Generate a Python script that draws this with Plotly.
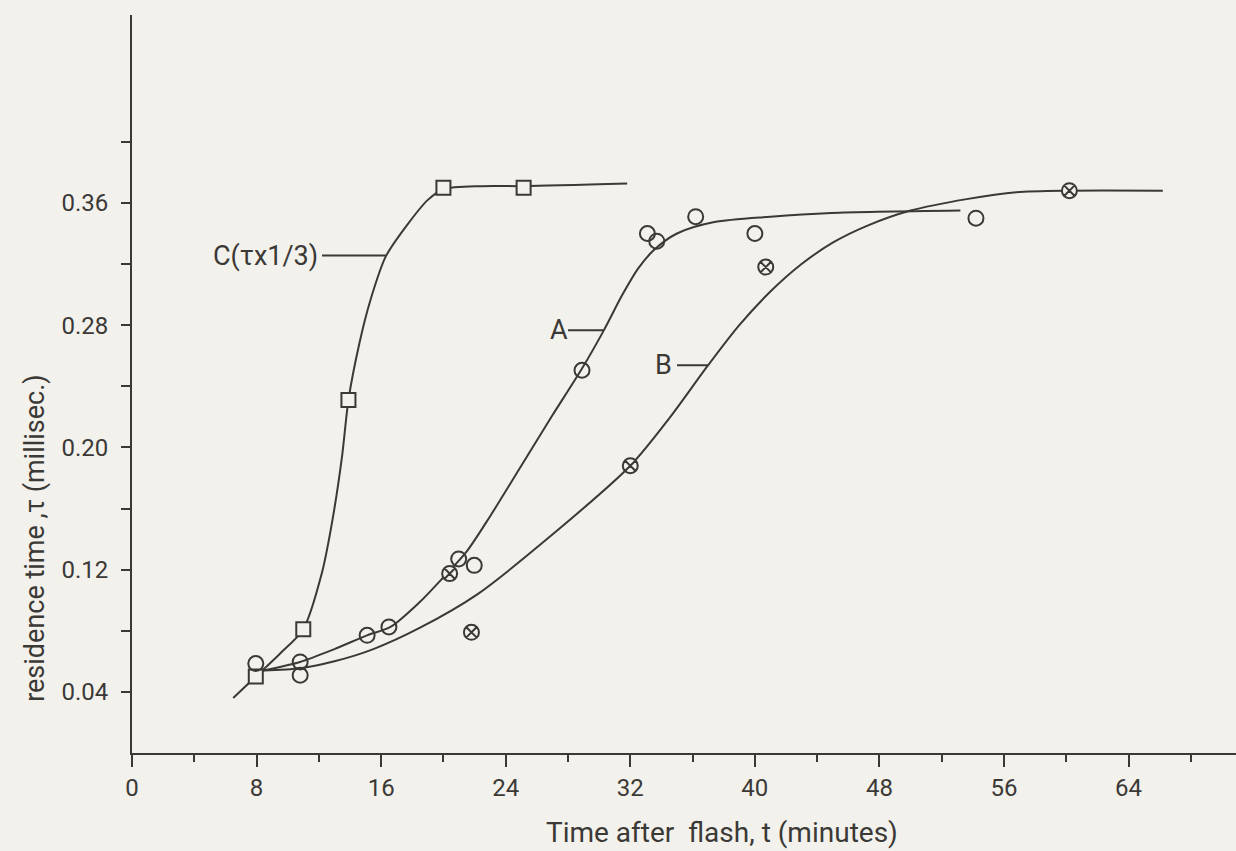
import plotly.graph_objects as go

# ---- data ----
# fitted curves (hand-drawn lines)
c_curve_t = [6.5, 7.95, 9.5, 11.0, 12.2, 12.9, 13.5, 13.9, 14.6, 15.3, 16.3, 17.7, 19.0, 20.0, 22.5, 25.15, 31.8]
c_curve_y = [0.036, 0.050, 0.065, 0.081, 0.118, 0.154, 0.195, 0.231, 0.268, 0.296, 0.325, 0.346, 0.362, 0.369, 0.371, 0.371, 0.3727]

a_curve_t = [8.4, 10.8, 13.0, 15.1, 16.6, 18.5, 20.0, 21.5, 23.0, 25.0, 27.0, 28.9, 30.3, 31.5, 32.5, 33.5, 35.0, 37.4, 41.0, 44.9, 53.2]
a_curve_y = [0.054, 0.0596, 0.068, 0.077, 0.0825, 0.099, 0.115, 0.132, 0.155, 0.188, 0.221, 0.2516, 0.2766, 0.300, 0.317, 0.329, 0.340, 0.3475, 0.351, 0.3534, 0.355]

b_curve_t = [8.4, 10.8, 13.0, 15.5, 18.5, 22.2, 26.65, 32.0, 34.5, 37.0, 39.0, 41.0, 43.0, 45.0, 47.2, 50.0, 53.6, 56.8, 60.2, 66.2]
b_curve_y = [0.054, 0.0555, 0.060, 0.068, 0.082, 0.104, 0.140, 0.188, 0.219, 0.2538, 0.280, 0.302, 0.320, 0.334, 0.345, 0.355, 0.3625, 0.367, 0.368, 0.368]

# measured points
squares_t = [7.95, 11.0, 13.9, 20.0, 25.15]
squares_y = [0.050, 0.081, 0.231, 0.370, 0.370]

circles_t = [7.95, 10.8, 10.8, 15.1, 16.5, 20.98, 21.98, 28.9, 33.1, 33.7, 36.2, 40.0, 54.2]
circles_y = [0.0585, 0.0596, 0.0509, 0.077, 0.0825, 0.127, 0.1228, 0.2505, 0.340, 0.335, 0.351, 0.340, 0.350]

crossed_t = [20.4, 21.8, 32.0, 40.7, 60.2]
crossed_y = [0.1174, 0.079, 0.188, 0.318, 0.368]

# curve labels and leader lines
label_text = ["C(τx1/3)", "A", "B"]
label_t = [12.1, 27.4, 34.15]
label_y = [0.3256, 0.2766, 0.2538]
leader_t0 = [12.2, 28.0, 35.0]
leader_t1 = [16.3, 30.3, 37.0]

x_major = [0, 8, 16, 24, 32, 40, 48, 56, 64]
x_minor = [4, 12, 20, 28, 36, 44, 52, 60, 68]
y_ticks = [0.04, 0.08, 0.12, 0.16, 0.20, 0.24, 0.28, 0.32, 0.36, 0.40]
y_tick_text = ["0.04", "", "0.12", "", "0.20", "", "0.28", "", "0.36", ""]

INK = "#3b3936"
BG = "#f3f1ec"
FONT = "Roboto"

fig = go.Figure()

for tt, yy in [(c_curve_t, c_curve_y), (a_curve_t, a_curve_y), (b_curve_t, b_curve_y)]:
    fig.add_trace(go.Scatter(x=tt, y=yy, mode="lines",
                             line=dict(color=INK, width=2, shape="spline", smoothing=0.8),
                             hoverinfo="skip", showlegend=False))

for t0, t1, yy in zip(leader_t0, leader_t1, label_y):
    fig.add_trace(go.Scatter(x=[t0, t1], y=[yy, yy], mode="lines",
                             line=dict(color=INK, width=2), hoverinfo="skip", showlegend=False))

fig.add_trace(go.Scatter(x=squares_t, y=squares_y, mode="markers",
                         marker=dict(symbol="square", size=14, color=BG,
                                     line=dict(color=INK, width=2)), showlegend=False))
fig.add_trace(go.Scatter(x=circles_t, y=circles_y, mode="markers",
                         marker=dict(symbol="circle", size=15, color="rgba(0,0,0,0)",
                                     line=dict(color=INK, width=2)), showlegend=False))
fig.add_trace(go.Scatter(x=crossed_t, y=crossed_y, mode="markers",
                         marker=dict(symbol="circle-x", size=15, color=BG,
                                     line=dict(color=INK, width=2)), showlegend=False))

for txt, tt, yy in zip(label_text, label_t, label_y):
    fig.add_annotation(x=tt, y=yy, text=txt, showarrow=False,
                       xanchor="right" if txt.startswith("C") else "center",
                       yanchor="middle", font=dict(family=FONT, size=27, color=INK))

fig.add_annotation(xref="paper", yref="paper", x=(722 - 132) / 1104, y=-0.108,
                   text="Time after&nbsp;&nbsp;flash, t (minutes)", showarrow=False,
                   xanchor="center", yanchor="middle",
                   font=dict(family=FONT, size=28, color=INK))
fig.add_annotation(xref="paper", yref="paper", x=-0.088, y=(753 - 538) / 738,
                   text="residence time ,τ (millisec.)", showarrow=False, textangle=-90,
                   xanchor="center", yanchor="middle",
                   font=dict(family=FONT, size=27, color=INK))

fig.update_xaxes(range=[0, 70.9], showline=True, linecolor=INK, linewidth=2,
                 showgrid=False, zeroline=False,
                 tickmode="array", tickvals=x_major, ticks="outside", ticklen=12,
                 tickwidth=2, tickcolor=INK, ticklabelstandoff=0,
                 tickfont=dict(family=FONT, size=24, color=INK),
                 minor=dict(tickmode="array", tickvals=x_minor, ticks="outside",
                            ticklen=7, tickwidth=2, tickcolor=INK))
fig.update_yaxes(range=[0, 0.483], showline=True, linecolor=INK, linewidth=2,
                 showgrid=False, zeroline=False,
                 tickmode="array", tickvals=y_ticks, ticktext=y_tick_text,
                 ticks="outside", ticklen=9, tickwidth=2, tickcolor=INK, ticklabelstandoff=8,
                 tickfont=dict(family=FONT, size=24, color=INK))

fig.update_layout(width=1236, height=851, autosize=False,
                  margin=dict(l=132, r=0, t=15, b=98),
                  paper_bgcolor=BG, plot_bgcolor=BG, showlegend=False)

fig.write_html("out.html")
